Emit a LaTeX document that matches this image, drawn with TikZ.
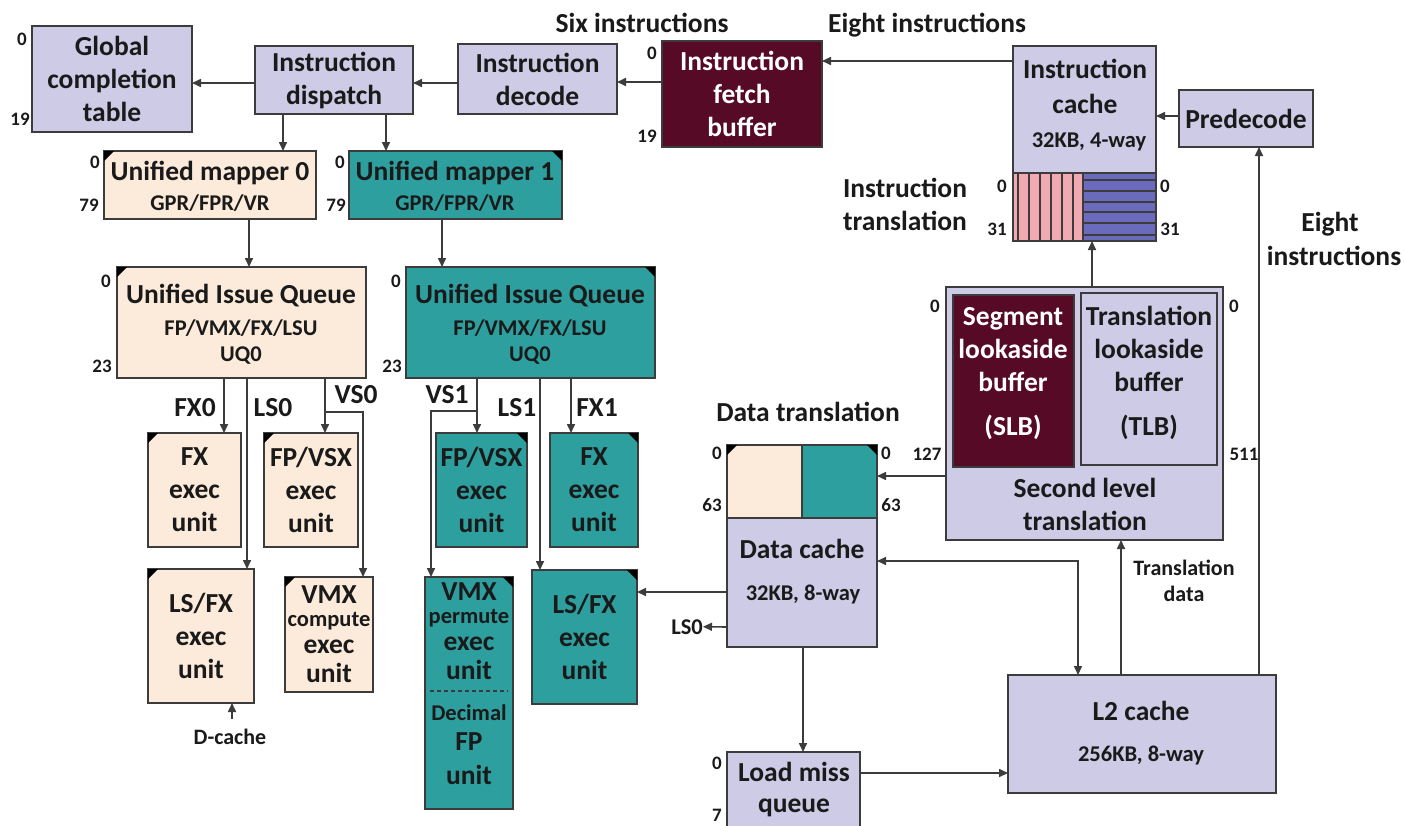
\documentclass[tikz,border=0pt]{standalone}
\usepackage{fontspec}
\setmainfont{Carlito}
\usetikzlibrary{arrows.meta,calc}
\definecolor{lav}{HTML}{CDCBE5}
\definecolor{peach}{HTML}{FCEBDB}
\definecolor{teal2}{HTML}{2E9F9F}
\definecolor{maroon2}{HTML}{560A26}
\definecolor{bord}{HTML}{3C3C3C}
\definecolor{pinkst}{HTML}{F2AAB2}
\definecolor{bluest}{HTML}{6B6BBD}
\definecolor{txt}{HTML}{1A1A1A}
\newcommand\fmain{\bfseries\fontsize{27.5}{33}\selectfont}
\newcommand\fsub{\bfseries\fontsize{22.5}{26}\selectfont}
\newcommand\fnum{\bfseries\fontsize{19}{22}\selectfont}
\newcommand\fsml{\bfseries\fontsize{22}{26}\selectfont}
\newcommand\bx[7]{\node[#6, minimum width={#4pt-#2pt}, minimum height={#5pt-#3pt}, anchor=north west] (#1) at (#2,#3) {#7};}
\newcommand\txl[5]{\node[#4, anchor=base] (#1) at (#2,#3) {#5};}
\newcommand\nm[4]{\node[num] (#1) at (#2,#3) {#4};}
\newcommand\trl[1]{\fill[black] (#1.north west) -- ++(10,0) -- ++(-10,10) -- cycle;}
\newcommand\trr[1]{\fill[black] (#1.north east) -- ++(-10,0) -- ++(10,10) -- cycle;}
\begin{document}
\begin{tikzpicture}[x=1pt,y=-1pt,
  box/.style={draw=bord, line width=1.8pt, inner sep=0pt, outer sep=0pt, align=center, text=txt, font=\fmain},
  lavbox/.style={box, fill=lav},
  peachbox/.style={box, fill=peach},
  tealbox/.style={box, fill=teal2},
  marbox/.style={box, fill=maroon2, text=white},
  pinkbox/.style={box, fill=pinkst},
  bluebox/.style={box, fill=bluest},
  tmain/.style={font=\fmain, text=txt, inner sep=0pt},
  twhite/.style={font=\fmain, text=white, inner sep=0pt},
  tsub/.style={font=\fsub, text=txt, inner sep=0pt},
  tsml/.style={font=\fsml, text=txt, inner sep=0pt},
  num/.style={font=\fnum, text=txt, inner sep=0pt, text height=12pt, text depth=0pt},
  arr/.style={draw=bord, line width=1.6pt, -{Triangle[length=9pt,width=8pt]}},
  darr/.style={draw=bord, line width=1.6pt, {Triangle[length=9pt,width=8pt]}-{Triangle[length=9pt,width=8pt]}},
  conn/.style={draw=bord, line width=1.6pt}]
\useasboundingbox (0,0) rectangle (1405,825);
\fill[white] (0,0) rectangle (1405,825);
\clip (0,0) rectangle (1405,825);

% ---------- boxes ----------
\bx{gct}{32}{26}{192}{132}{lavbox}{Global\\completion\\table}
\bx{disp}{255}{46}{413}{114}{lavbox}{Instruction\\dispatch}
\bx{dec}{458}{44}{617}{114}{lavbox}{Instruction\\decode}
\bx{ifb}{662}{41}{822}{147}{marbox}{Instruction\\fetch\\buffer}
\bx{icache}{1013}{46}{1156}{173}{lavbox}{}
\bx{itA}{1013}{173}{1083}{241}{pinkbox}{}
\bx{itB}{1083}{173}{1156}{241}{bluebox}{}
\bx{pre}{1179}{90}{1313}{147}{lavbox}{Predecode}
\bx{m0}{104}{151}{316}{219}{peachbox}{}
\bx{m1}{349}{151}{562}{219}{tealbox}{}
\bx{uiq0}{117}{267}{366}{378}{peachbox}{}
\bx{uiq1}{406}{267}{655}{378}{tealbox}{}
\bx{fx0}{148}{433}{241}{547}{peachbox}{FX\\exec\\unit}
\bx{fpv0}{264}{433}{358}{547}{peachbox}{FP/VSX\\exec\\unit}
\bx{lsfx0}{148}{569}{254}{703}{peachbox}{LS/FX\\exec\\unit}
\bx{vmxc}{285}{577}{373}{692}{peachbox}{}
\bx{fpv1}{436}{433}{527}{547}{tealbox}{FP/VSX\\exec\\unit}
\bx{fx1}{550}{433}{638}{547}{tealbox}{FX\\exec\\unit}
\bx{vmxp}{425}{577}{513}{809}{tealbox}{}
\bx{lsfx1}{532}{570}{637}{704}{tealbox}{LS/FX\\exec\\unit}
\bx{dtrA}{727}{445}{802}{518}{peachbox}{}
\bx{dtrB}{802}{445}{877}{518}{tealbox}{}
\bx{dc}{727}{518}{877}{647}{lavbox}{}
\bx{slt}{946}{287}{1223}{540}{lavbox}{}
\bx{slb}{953}{295}{1074}{467}{marbox}{}
\bx{tlb}{1081}{293}{1217}{465}{lavbox}{}
\bx{l2}{1008}{675}{1276}{793}{lavbox}{}
\bx{lmq}{727}{752}{860}{845}{lavbox}{}

% stripes
\foreach \d in {5,16,27,38,49,60}
  \draw[bord, line width=1.3pt] ($(itA.north west)+(\d,0)$) -- ($(itA.south west)+(\d,0)$);
\foreach \d in {7,18,29,39,50,62}
  \draw[bord, line width=1.3pt] ($(itB.north west)+(0,\d)$) -- ($(itB.north east)+(0,\d)$);

% dashed divider
\draw[bord, line width=1.3pt, dash pattern=on 4pt off 3pt] ($(vmxp.north west)+(5,114)$) -- ($(vmxp.north east)+(-5,114)$);

% corner triangles
\trl{m0}\trl{uiq0}\trl{fx0}\trl{fpv0}\trl{lsfx0}\trl{vmxc}\trl{dtrA}
\trr{m1}\trr{uiq1}\trr{fpv1}\trr{fx1}\trr{vmxp}\trr{lsfx1}\trr{dtrB}

% ---------- texts inside boxes ----------
\txl{ic1}{1085}{78}{tmain}{Instruction}
\txl{ic2}{1085}{113}{tmain}{cache}
\txl{ic3}{1089}{147}{tsub}{32KB, 4-way}
\txl{m0a}{210}{180}{tmain}{Unified mapper 0}
\txl{m0b}{210}{210}{tsub}{GPR/FPR/VR}
\txl{m1a}{455}{180}{tmain}{Unified mapper 1}
\txl{m1b}{455}{210}{tsub}{GPR/FPR/VR}
\txl{u0a}{241}{303}{tmain}{Unified Issue Queue}
\txl{u0b}{241}{335}{tsub}{FP/VMX/FX/LSU}
\txl{u0c}{241}{361}{tsub}{UQ0}
\txl{u1a}{530}{303}{tmain}{Unified Issue Queue}
\txl{u1b}{530}{335}{tsub}{FP/VMX/FX/LSU}
\txl{u1c}{530}{361}{tsub}{UQ0}
\txl{vc1}{329}{603}{tmain}{VMX}
\txl{vc2}{329}{626}{tsub}{compute}
\txl{vc3}{329}{653}{tmain}{exec}
\txl{vc4}{329}{682}{tmain}{unit}
\txl{vp1}{469}{600}{tmain}{VMX}
\txl{vp2}{469}{623}{tsub}{permute}
\txl{vp3}{469}{650}{tmain}{exec}
\txl{vp4}{469}{679}{tmain}{unit}
\txl{vp5}{469}{720}{tsub}{Decimal}
\txl{vp6}{469}{750}{tmain}{FP}
\txl{vp7}{469}{784}{tmain}{unit}
\txl{dc1}{802}{558}{tmain}{Data cache}
\txl{dc2}{803}{600}{tsub}{32KB, 8-way}
\txl{sb1}{1013}{325}{twhite}{Segment}
\txl{sb2}{1013}{358}{twhite}{lookaside}
\txl{sb3}{1013}{391}{twhite}{buffer}
\txl{sb4}{1013}{435}{twhite}{(SLB)}
\txl{tb1}{1149}{325}{tmain}{Translation}
\txl{tb2}{1149}{358}{tmain}{lookaside}
\txl{tb3}{1149}{391}{tmain}{buffer}
\txl{tb4}{1149}{435}{tmain}{(TLB)}
\txl{sl1}{1085}{497}{tmain}{Second level}
\txl{sl2}{1085}{530}{tmain}{translation}
\txl{l2a}{1141}{720}{tmain}{L2 cache}
\txl{l2b}{1141}{761}{tsub}{256KB, 8-way}
\txl{lq1}{794}{781}{tmain}{Load miss}
\txl{lq2}{794}{812}{tmain}{queue}

% ---------- free labels ----------
\txl{six}{642}{32}{tmain}{Six instructions}
\txl{eight}{927}{32}{tmain}{Eight instructions}
\txl{itr1}{905}{197}{tmain}{Instruction}
\txl{itr2}{905}{230}{tmain}{translation}
\txl{ei1}{1330}{231}{tmain}{Eight}
\txl{ei2}{1334}{265}{tmain}{instructions}
\txl{dtl}{808}{421}{tmain}{Data translation}
\txl{fx0l}{195}{416}{tmain}{FX0}
\txl{ls0l}{273}{416}{tmain}{LS0}
\txl{vs0l}{356}{403}{tmain}{VS0}
\txl{vs1l}{447}{403}{tmain}{VS1}
\txl{ls1l}{517}{416}{tmain}{LS1}
\txl{fx1l}{597}{416}{tmain}{FX1}
\node[tsub, anchor=base east] (ls0d) at (703,634) {LS0};
\txl{trd1}{1184}{575}{tsml}{Translation}
\txl{trd2}{1184}{601}{tsml}{data}
\txl{dcl}{230}{744}{tsml}{D-cache}

% ---------- numbers ----------
\nm{n1}{22}{39}{0}\nm{n2}{20}{119}{19}
\nm{n3}{95}{162}{0}\nm{n4}{89}{205}{79}
\nm{n5}{340}{162}{0}\nm{n6}{336}{205}{79}
\nm{n7}{652}{53}{0}\nm{n8}{647}{136}{19}
\nm{n9}{1002}{186}{0}\nm{n10}{997}{229}{31}
\nm{n11}{1165}{186}{0}\nm{n12}{1170}{229}{31}
\nm{n13}{106}{281}{0}\nm{n14}{102}{366}{23}
\nm{n15}{396}{281}{0}\nm{n16}{392}{366}{23}
\nm{n17}{717}{453}{0}\nm{n18}{712}{505}{63}
\nm{n19}{886}{453}{0}\nm{n20}{891}{505}{63}
\nm{n21}{935}{306}{0}\nm{n22}{927}{454}{127}
\nm{n23}{1234}{306}{0}\nm{n24}{1244}{454}{511}
\nm{n25}{717}{763}{0}\nm{n26}{717}{815}{7}

% ---------- connectors ----------
\draw[arr] ($(disp.north west)+(0,37)$) -- ($(gct.north east)+(0,57)$);
\draw[arr] ($(dec.north west)+(0,39)$) -- ($(disp.north east)+(0,37)$);
\draw[arr] ($(ifb.north west)+(0,41)$) -- ($(dec.north east)+(0,38)$);
\draw[arr] ($(icache.north west)+(0,15)$) -- ($(ifb.north east)+(0,20)$);
\draw[arr] ($(pre.north west)+(0,26)$) -- ($(icache.north east)+(0,70)$);
\draw[arr] ($(disp.south west)+(28,0)$) -- ($(m0.north west)+(179,0)$);
\draw[arr] ($(disp.south west)+(131,0)$) -- ($(m1.north west)+(37,0)$);
\draw[arr] ($(m0.south west)+(145,0)$) -- ($(uiq0.north west)+(132,0)$);
\draw[arr] ($(m1.south west)+(93,0)$) -- ($(uiq1.north west)+(36,0)$);
\draw[arr] ($(uiq0.south west)+(107,0)$) -- ($(fx0.north west)+(76,0)$);
\draw[arr] ($(uiq0.south west)+(130,0)$) -- ($(lsfx0.north west)+(99,0)$);
\draw[arr] ($(uiq0.south west)+(208,0)$) -- ($(fpv0.north west)+(61,0)$);
\draw[arr] ($(uiq0.south west)+(208,34)$) -| ($(vmxc.north west)+(78,0)$);
\draw[arr] ($(uiq1.south west)+(71,0)$) -- ($(fpv1.north west)+(41,0)$);
\draw[arr] ($(uiq1.south west)+(71,33)$) -| ($(vmxp.north west)+(6,0)$);
\draw[arr] ($(uiq1.south west)+(134,0)$) -- ($(lsfx1.north west)+(8,0)$);
\draw[arr] ($(uiq1.south west)+(165,0)$) -- ($(fx1.north west)+(21,0)$);
\draw[arr] ($(dc.north west)+(0,74)$) -- ($(lsfx1.north east)+(0,22)$);
\draw[arr] ($(dc.north west)+(0,109)$) -- (ls0d.east);
\draw[arr] ($(slt.north west)+(0,189)$) -- ($(dtrB.north east)+(0,31)$);
\draw[arr] ($(slt.north west)+(146,0)$) -- ($(itB.south west)+(9,0)$);
\draw[arr] ($(l2.north west)+(251,0)$) -- ($(pre.south west)+(80,0)$);
\draw[arr] ($(l2.north west)+(113,0)$) -- ($(slt.south west)+(175,0)$);
\draw[darr] ($(dc.north east)+(0,43)$) -| ($(l2.north west)+(70,0)$);
\draw[arr] ($(dc.south west)+(76,0)$) -- ($(lmq.north west)+(76,0)$);
\draw[arr] ($(lmq.north east)+(0,21)$) -- ($(l2.north west)+(0,98)$);
\draw[arr] ($(dcl.north)+(2,-9)$) -- ($(lsfx0.south west)+(84,0)$);
\end{tikzpicture}
\end{document}
